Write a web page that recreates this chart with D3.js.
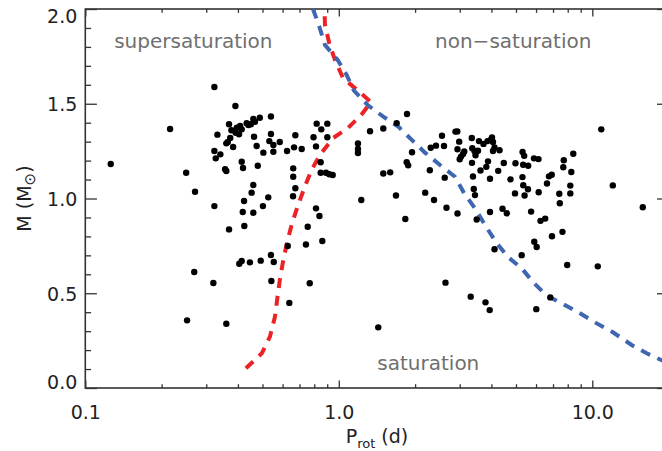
<!DOCTYPE html>
<html lang="en">
<head>
<meta charset="UTF-8">
<title>M vs Prot</title>
<script src="https://d3js.org/d3.v7.min.js"></script>
<style>
  body { margin: 0; background: #fff; }
  svg { display: block; }
  text { font-family: "DejaVu Sans", sans-serif; }
</style>
</head>
<body>
<script>
// rotation period (d) and mass (Msun) of the stars
const periods = [0.126,0.216,0.250,0.271,0.323,0.391,0.323,0.269,0.320,0.252,0.360,
  0.540,0.488,0.460,0.467,0.450,0.433,0.440,0.408,0.396,0.414,0.369,0.377,0.392,0.404,0.332,0.373,0.365,0.360,0.383,0.323,0.341,0.327,0.463,0.540,0.532,0.552,0.585,0.474,0.504,0.552,0.625,0.666,0.674,0.714,0.818,0.795,0.813,0.414,0.419,0.479,0.356,0.360,0.661,0.661,0.460,0.453,0.527,0.423,0.502,0.418,0.460,0.369,0.424,0.674,0.660,0.813,0.839,0.754,0.861,0.742,0.629,0.540,0.554,0.492,0.446,0.414,0.405,0.542,0.768,0.638,
  0.901,0.853,0.901,0.848,0.848,0.890,0.917,0.946,1.328,1.498,1.190,1.190,1.190,1.498,1.595,1.692,1.858,1.945,1.853,1.878,1.227,1.681,1.830,1.431,
  2.286,2.192,2.375,2.660,2.939,2.305,2.418,2.600,2.553,2.886,2.934,2.985,2.939,3.126,3.090,3.034,2.999,3.347,3.362,3.430,3.573,3.462,3.541,3.722,3.860,3.974,4.021,4.058,4.114,4.058,4.305,3.878,3.353,3.819,3.622,3.383,3.408,3.446,3.949,4.255,4.476,4.977,4.756,2.617,5.309,5.387,5.338,5.586,5.304,5.342,4.955,5.406,5.576,5.888,6.134,6.145,6.627,6.749,6.917,7.718,8.414,7.683,8.264,8.189,8.189,7.410,7.444,5.736,6.247,6.520,4.424,4.600,3.949,3.499,10.85,12.05,15.82,6.934,7.627,5.904,6.035,4.114,5.266,7.962,10.51,2.636,3.314,3.791,3.938,6.013,6.830];
const masses = [1.182,1.367,1.136,1.036,1.588,1.488,0.960,0.612,0.554,0.357,0.339,
  1.433,1.426,1.420,1.405,1.392,1.397,1.388,1.383,1.374,1.365,1.392,1.360,1.347,1.339,1.337,1.319,1.298,1.291,1.272,1.251,1.233,1.212,1.326,1.340,1.303,1.282,1.298,1.277,1.242,1.247,1.251,1.270,1.334,1.261,1.395,1.323,1.275,1.194,1.161,1.173,1.154,1.145,1.159,1.115,1.071,1.031,1.006,0.987,0.960,0.929,0.925,0.837,0.855,1.054,1.012,0.948,0.908,0.851,0.776,0.757,0.749,0.702,0.665,0.672,0.663,0.670,0.656,0.565,0.553,0.449,
  1.395,1.365,1.323,1.191,1.136,1.136,1.128,1.124,1.355,1.369,1.290,1.261,1.240,1.132,1.138,1.398,1.446,1.244,1.191,1.175,0.992,1.016,0.892,0.320,
  1.149,1.031,0.992,0.951,0.921,1.268,1.279,1.277,1.331,1.353,1.354,1.300,1.260,1.248,1.235,1.221,1.207,1.319,1.265,1.251,1.303,1.228,1.252,1.288,1.303,1.309,1.322,1.298,1.269,1.251,1.255,1.196,1.188,1.167,1.148,1.116,1.050,1.018,1.104,1.146,1.187,1.186,1.101,1.110,1.245,1.225,1.178,1.173,1.113,1.070,1.027,1.016,1.049,1.212,1.208,1.033,1.079,1.117,1.125,1.202,1.236,1.165,1.140,1.068,1.027,1.025,0.975,0.931,0.882,0.894,0.946,0.922,0.929,0.889,1.365,1.069,0.954,0.801,0.824,0.772,0.744,0.732,0.701,0.649,0.642,0.556,0.482,0.452,0.411,0.416,0.478];

// supersaturation boundary (red) and saturation boundary (blue)
const redP = [0.430,0.497,0.535,0.560,0.573,0.586,0.604,0.626,0.654,0.692,0.736,0.780,0.843,0.949,1.087,1.235,1.340,1.180,1.039,0.966,0.917,0.882,0.878];
const redM = [0.104,0.183,0.271,0.376,0.480,0.575,0.675,0.772,0.869,0.968,1.066,1.150,1.230,1.319,1.372,1.446,1.509,1.573,1.636,1.731,1.819,1.916,2.0];
const blueP = [0.791,0.838,0.882,0.990,1.074,1.148,1.300,1.498,1.717,1.940,2.188,2.507,2.873,3.126,3.446,3.774,4.159,4.651,5.266,5.852,6.609,7.683,8.943,10.41,12.10,14.30,16.39,20.0];
const blueM = [2.0,1.907,1.810,1.731,1.652,1.569,1.493,1.432,1.379,1.309,1.242,1.177,1.115,1.027,0.948,0.860,0.772,0.691,0.632,0.557,0.487,0.443,0.394,0.341,0.293,0.227,0.183,0.13];

const xMajor = [0.1, 1, 10];
const xLabels = ["0.1", "1.0", "10.0"];
const xMinor = [0.2,0.3,0.4,0.5,0.6,0.7,0.8,0.9,2,3,4,5,6,7,8,9];
const yMajor = [0.0, 0.5, 1.0, 1.5, 2.0];
const yLabels = ["0.0", "0.5", "1.0", "1.5", "2.0"];

const width = 662, height = 451;
const mLeft = 85.3, mRight = 668.6, mTop = 9, mBottom = 388;

const svg = d3.select("body").append("svg")
  .attr("width", width).attr("height", height);

const x = d3.scaleLog().domain([0.1, 20]).range([mLeft, mRight]);
const y = d3.scaleLinear().domain([0, 2]).range([mBottom, mTop]);
const yMinor = d3.range(0.1, 2.0, 0.1).filter(v => Math.abs(v * 2 - Math.round(v * 2)) > 1e-6);

const axisColor = "#333";
function styleAxis(g) {
  g.select(".domain").remove();
  g.selectAll("line").attr("stroke", axisColor).attr("stroke-width", 1.3);
  g.selectAll("text").attr("fill", "#222").attr("font-size", 19)
    .attr("font-family", "DejaVu Sans, sans-serif");
}

// bottom
svg.append("g").attr("transform", `translate(0,${mBottom})`)
  .call(d3.axisBottom(x).tickValues(xMajor).tickFormat((d, i) => xLabels[i])
    .tickSizeInner(-7.6).tickSizeOuter(0).tickPadding(17.5))
  .call(styleAxis);
svg.append("g").attr("transform", `translate(0,${mBottom})`)
  .call(d3.axisBottom(x).tickValues(xMinor).tickFormat("").tickSizeInner(-3.8).tickSizeOuter(0))
  .call(styleAxis);
// top
svg.append("g").attr("transform", `translate(0,${mTop})`)
  .call(d3.axisTop(x).tickValues(xMajor).tickFormat("").tickSizeInner(-7.6).tickSizeOuter(0))
  .call(styleAxis);
svg.append("g").attr("transform", `translate(0,${mTop})`)
  .call(d3.axisTop(x).tickValues(xMinor).tickFormat("").tickSizeInner(-3.8).tickSizeOuter(0))
  .call(styleAxis);
// left
const yAx = svg.append("g").attr("transform", `translate(${mLeft},0)`)
  .call(d3.axisLeft(y).tickValues(yMajor).tickFormat((d, i) => yLabels[i])
    .tickSizeInner(-11.6).tickSizeOuter(0).tickPadding(8))
  .call(styleAxis);
yAx.selectAll(".tick text").attr("dy", d => d === 2 ? "0.72em" : d === 0 ? "0.0em" : "0.36em");
svg.append("g").attr("transform", `translate(${mLeft},0)`)
  .call(d3.axisLeft(y).tickValues(yMinor).tickFormat("").tickSizeInner(-5.8).tickSizeOuter(0))
  .call(styleAxis);
// right
svg.append("g").attr("transform", `translate(${mRight},0)`)
  .call(d3.axisRight(y).tickValues(yMajor).tickFormat("").tickSizeInner(-11.6).tickSizeOuter(0))
  .call(styleAxis);
svg.append("g").attr("transform", `translate(${mRight},0)`)
  .call(d3.axisRight(y).tickValues(yMinor).tickFormat("").tickSizeInner(-5.8).tickSizeOuter(0))
  .call(styleAxis);

// frame
svg.append("rect")
  .attr("x", mLeft).attr("y", mTop)
  .attr("width", mRight - mLeft).attr("height", mBottom - mTop)
  .attr("fill", "none").attr("stroke", axisColor).attr("stroke-width", 1.6);

// boundary curves
svg.append("clipPath").attr("id", "plotclip")
  .append("rect").attr("x", mLeft).attr("y", mTop)
  .attr("width", mRight - mLeft).attr("height", mBottom - mTop);

const line = d3.line().x(d => x(d[0])).y(d => y(d[1]));
const plot = svg.append("g").attr("clip-path", "url(#plotclip)");

plot.append("path")
  .datum(redP.map((p, i) => [p, redM[i]]))
  .attr("d", line)
  .attr("fill", "none").attr("stroke", "#ec2227")
  .attr("stroke-width", 4).attr("stroke-dasharray", "10,8");

plot.append("path")
  .datum(blueP.map((p, i) => [p, blueM[i]]))
  .attr("d", line)
  .attr("fill", "none").attr("stroke", "#3f66b0")
  .attr("stroke-width", 4).attr("stroke-dasharray", "10,8");

// stars
plot.selectAll("circle.star")
  .data(periods.map((p, i) => [p, masses[i]]))
  .enter().append("circle")
  .attr("class", "star")
  .attr("cx", d => x(d[0]))
  .attr("cy", d => y(d[1]))
  .attr("r", 3.2)
  .attr("fill", "#000");

// region labels
const regions = [
  { text: "supersaturation", p: 0.130, m: 1.795 },
  { text: "non\u2212saturation", p: 2.397, m: 1.796 },
  { text: "saturation", p: 1.419, m: 0.095 }
];
svg.selectAll("text.region")
  .data(regions)
  .enter().append("text")
  .attr("class", "region")
  .attr("x", d => x(d.p))
  .attr("y", d => y(d.m))
  .attr("font-size", 20)
  .attr("fill", "#6f6f6f")
  .text(d => d.text);

// axis titles
const xt = svg.append("text")
  .attr("x", (mLeft + mRight) / 2).attr("y", 443)
  .attr("text-anchor", "middle").attr("font-size", 19).attr("fill", "#222");
xt.append("tspan").text("P");
xt.append("tspan").attr("font-size", 13).attr("dy", 5).text("rot");
xt.append("tspan").attr("dy", -5).text(" (d)");

const yt = svg.append("text")
  .attr("transform", `translate(31,${(mTop + mBottom) / 2}) rotate(-90)`)
  .attr("text-anchor", "middle").attr("font-size", 19).attr("fill", "#222");
yt.append("tspan").text("M (M");
yt.append("tspan").attr("font-size", 15).attr("dy", 4).text("\u2299");
yt.append("tspan").attr("dy", -4).text(")");
</script>
</body>
</html>
